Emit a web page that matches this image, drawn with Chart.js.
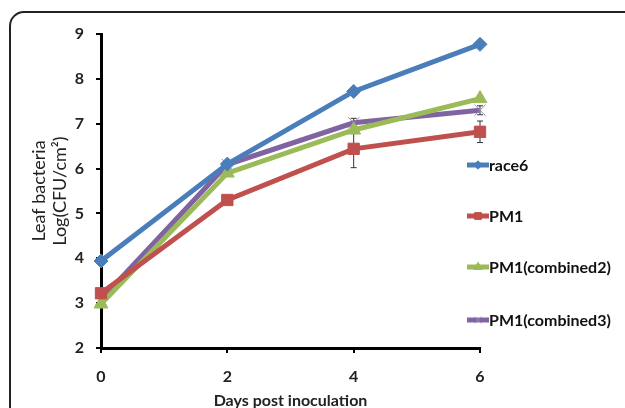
<!DOCTYPE html>
<html>
<head>
<meta charset="utf-8">
<script src="https://cdn.jsdelivr.net/npm/chart.js@4.4.0/dist/chart.umd.min.js"></script>
<style>
  html, body { margin: 0; padding: 0; background: #fff; overflow: hidden; }
  #wrap { width: 625px; height: 410px; position: relative; }
</style>
</head>
<body>
<div id="wrap"><canvas id="lineChart"></canvas></div>
<script>
// data
const days = ['0', '2', '4', '6'];
const race6 = [3.94, 6.1, 7.72, 8.77];
const pm1 = [3.22, 5.3, 6.44, 6.82];
const pm1Comb2 = [2.98, 5.9, 6.86, 7.56];
const pm1Comb3 = [3.08, 6.09, 7.02, 7.3];
// standard errors (half bar)
const pm1Err = [0.05, 0.05, 0.42, 0.24];
const comb2Err = [0, 0.05, 0.08, 0.05];
const comb3Err = [0, 0.08, 0.1, 0.1];
const yTicks = [2, 3, 4, 5, 6, 7, 8, 9];

const font = 'Lato, "Open Sans", sans-serif';

// frame round the figure
const framePlugin = {
    id: 'frame',
    beforeDraw(chart) {
        const c = chart.ctx;
        c.save();
        c.strokeStyle = '#222';
        c.lineWidth = 2;
        c.beginPath();
        c.roundRect(10, 12, 640, 420, 14);
        c.stroke();
        c.restore();
    }
};

// error bars, drawn behind the markers
const errorBarPlugin = {
    id: 'errorBars',
    beforeDatasetsDraw(chart) {
        const c = chart.ctx;
        const y = chart.scales.y;
        c.save();
        c.strokeStyle = '#333';
        c.lineWidth = 1;
        chart.data.datasets.forEach((ds, i) => {
            if (!ds.errors) return;
            const meta = chart.getDatasetMeta(i);
            meta.data.forEach((pt, j) => {
                const e = ds.errors[j];
                if (!e) return;
                const top = y.getPixelForValue(ds.data[j] + e);
                const bot = y.getPixelForValue(ds.data[j] - e);
                c.beginPath();
                c.moveTo(pt.x, top); c.lineTo(pt.x, bot);
                c.moveTo(pt.x - 3, top); c.lineTo(pt.x + 3, top);
                c.moveTo(pt.x - 3, bot); c.lineTo(pt.x + 3, bot);
                c.stroke();
            });
        });
        c.restore();
    }
};

// legend to the right, Excel style
const sideLegend = {
    id: 'sideLegend',
    afterDraw(chart) {
        const c = chart.ctx;
        const x0 = 467, ys = [165, 216, 267, 320];
        c.save();
        chart.data.datasets.forEach((ds, i) => {
            const yy = ys[i];
            c.strokeStyle = ds.borderColor;
            c.lineWidth = 5;
            c.beginPath();
            c.moveTo(x0, yy); c.lineTo(x0 + 22, yy);
            c.stroke();
            c.fillStyle = ds.borderColor;
            c.strokeStyle = ds.pointBorderColor;
            c.lineWidth = 1;
            Chart.helpers.drawPoint(c, {
                pointStyle: ds.pointStyle,
                radius: ds.pointRadius * 0.6,
                borderWidth: 1
            }, x0 + 11, yy);
            c.fillStyle = '#111';
            c.font = 'bold 16px ' + font;
            c.textBaseline = 'middle';
            c.fillText(ds.label, x0 + 22, yy + 1);
        });
        c.restore();
    }
};

function series(label, data, color, style, radius, errors) {
    return {
        label: label,
        data: data,
        errors: errors,
        borderColor: color,
        backgroundColor: color,
        pointBackgroundColor: color,
        pointBorderColor: style === 'crossRot' ? '#9a8cb0' : color,
        borderWidth: 5,
        pointStyle: style,
        pointRadius: radius,
        pointBorderWidth: 1,
        tension: 0
    };
}

const ctx = document.getElementById('lineChart').getContext('2d');
const lineChart = new Chart(ctx, {
    type: 'line',
    data: {
        labels: days,
        datasets: [
            series('race6', race6, '#4a7ebb', 'rectRot', 7, null),
            series('PM1', pm1, '#c0504d', 'rect', 8, pm1Err),
            series('PM1(combined2)', pm1Comb2, '#9bbb59', 'triangle', 8, comb2Err),
            series('PM1(combined3)', pm1Comb3, '#8064a2', 'crossRot', 8, comb3Err)
        ]
    },
    options: {
        responsive: true,
        maintainAspectRatio: false,
        animation: false,
        layout: { padding: { left: 29, top: 34, right: 145, bottom: 0 } },
        plugins: {
            legend: { display: false },
            tooltip: { enabled: false }
        },
        scales: {
            x: {
                offset: false,
                grid: { display: true, drawOnChartArea: false, color: '#000', lineWidth: 2, tickLength: 5 },
                border: { color: '#000', width: 3 },
                ticks: { color: '#222', font: { family: font, size: 16, weight: 'bold' }, padding: 14 },
                title: {
                    display: true, text: 'Days post inoculation', color: '#222',
                    font: { family: font, size: 16, weight: 'bold' }, padding: { top: 0, bottom: 0 }
                },
                afterFit(s) { s.height = 62; }
            },
            y: {
                min: 2, max: 9,
                afterBuildTicks(s) { s.ticks = yTicks.map(v => ({ value: v })); },
                grid: { display: true, drawOnChartArea: false, color: '#000', lineWidth: 2, tickLength: 5 },
                border: { color: '#000', width: 3 },
                ticks: { color: '#222', font: { family: font, size: 16, weight: 'bold' }, padding: 12 },
                title: {
                    display: true, text: ['Leaf bacteria', 'Log(CFU/cm\u00b2)'], color: '#222',
                    font: { family: font, size: 18, lineHeight: 1.15 }, padding: { top: 0, bottom: 0 }
                },
                afterFit(s) { s.width = 72; }
            }
        }
    },
    plugins: [framePlugin, errorBarPlugin, sideLegend]
});
</script>
</body>
</html>
